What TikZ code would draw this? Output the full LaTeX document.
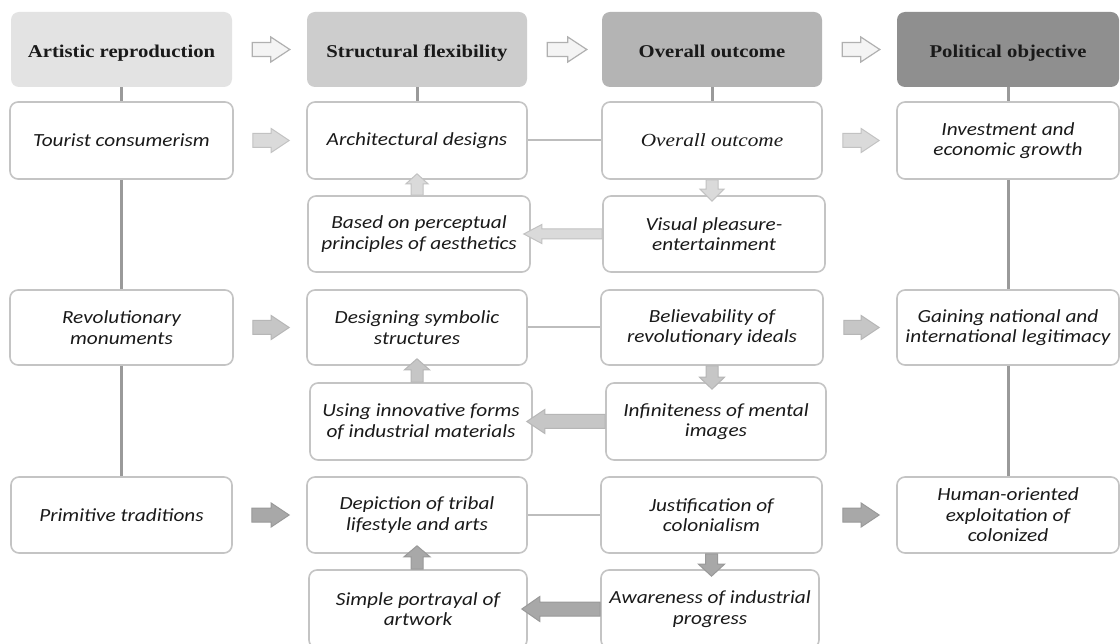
\documentclass[tikz,border=0pt]{standalone}
\usepackage{fontspec}
\setmainfont{Carlito}
\newfontfamily\bodyfont[FakeStretch=1.15]{Carlito}
\newfontfamily\headfont[FakeStretch=1.15]{Liberation Serif}
\usetikzlibrary{calc}
\definecolor{hA}{HTML}{E3E3E3}
\definecolor{hB}{HTML}{CDCDCD}
\definecolor{hC}{HTML}{B4B4B4}
\definecolor{hD}{HTML}{8F8F8F}
\definecolor{boxline}{HTML}{C4C4C4}
\definecolor{vline}{HTML}{9A9A9A}
\definecolor{hline}{HTML}{BDBDBD}
\definecolor{txt}{HTML}{1A1A1A}
\definecolor{arW}{HTML}{F4F4F4}
\definecolor{arWd}{HTML}{B0B0B0}
\definecolor{arA}{HTML}{DADADA}
\definecolor{arAd}{HTML}{C2C2C2}
\definecolor{arB}{HTML}{C6C6C6}
\definecolor{arBd}{HTML}{B6B6B6}
\definecolor{arC}{HTML}{A8A8A8}
\definecolor{arCd}{HTML}{999999}
% horizontal block arrow: style, tail, tip, body half, head half, signed head length
\newcommand{\hblk}[6]{\draw[#1] let \p1=(#2), \p2=(#3) in
  ({\x1},{\y1+#4}) -- ({\x2-(#6)},{\y1+#4}) -- ({\x2-(#6)},{\y1+#5}) -- ({\x2},{\y1})
  -- ({\x2-(#6)},{\y1-#5}) -- ({\x2-(#6)},{\y1-#4}) -- ({\x1},{\y1-#4}) -- cycle;}
% vertical block arrow
\newcommand{\vblk}[6]{\draw[#1] let \p1=(#2), \p2=(#3) in
  ({\x1+#4},{\y1}) -- ({\x1+#4},{\y2-(#6)}) -- ({\x1+#5},{\y2-(#6)}) -- ({\x1},{\y2})
  -- ({\x1-#5},{\y2-(#6)}) -- ({\x1-#4},{\y2-(#6)}) -- ({\x1-#4},{\y1}) -- cycle;}
\tikzset{
  headbox/.style={rounded corners=8pt, minimum height=75pt, inner sep=0pt,
    text height=17pt, text depth=0pt,
    font=\headfont\bfseries\fontsize{18}{20}\selectfont, text=txt},
  cellbox/.style={draw=boxline, line width=1.6pt, fill=white, rounded corners=8pt,
    inner sep=0pt, align=center, text=txt,
    font=\bodyfont\itshape\fontsize{18.5}{20.5}\selectfont},
  colline/.style={draw=vline, line width=3pt},
  rowline/.style={draw=hline, line width=2pt},
  arrW/.style={fill=arW, draw=arWd, line width=1.2pt},
  arrA/.style={fill=arA, draw=arAd, line width=1pt},
  arrB/.style={fill=arB, draw=arBd, line width=1pt},
  arrC/.style={fill=arC, draw=arCd, line width=1pt}
}
\begin{document}
\begin{tikzpicture}[x=1pt, y=-1pt]
\useasboundingbox (0,0) rectangle (1120,644);
\clip (0,0) rectangle (1120,644);
\fill[white] (0,0) rectangle (1120,644);

% headers
\node[headbox, fill=hA, minimum width=221pt] (H1) at (121.5,49.5) {Artistic reproduction};
\node[headbox, fill=hB, minimum width=220pt] (H2) at (417,49.5) {Structural flexibility};
\node[headbox, fill=hC, minimum width=220pt] (H3) at (712,49.5) {Overall outcome};
\node[headbox, fill=hD, minimum width=222pt] (H4) at (1008,49.5) {Political objective};

% row 1
\node[cellbox, minimum width=223pt, minimum height=77pt] (A1) at (121.5,140.5) {Tourist consumerism};
\node[cellbox, minimum width=220pt, minimum height=77pt] (B1) at (417,140.5) {Architectural designs};
\node[cellbox, minimum width=220pt, minimum height=77pt, font=\headfont\itshape\fontsize{18.5}{20.5}\selectfont] (C1) at (712,140.5) {Overall outcome};
\node[cellbox, minimum width=222pt, minimum height=77pt] (D1) at (1008,140.5) {Investment and\\economic growth};
\node[cellbox, minimum width=222pt, minimum height=76pt] (B1b) at (419,234) {Based on perceptual\\principles of aesthetics};
\node[cellbox, minimum width=222pt, minimum height=76pt] (C1b) at (714,234) {Visual pleasure-\\entertainment};

% row 2
\node[cellbox, minimum width=223pt, minimum height=75pt] (A2) at (121.5,327.5) {Revolutionary\\monuments};
\node[cellbox, minimum width=220pt, minimum height=75pt] (B2) at (417,327.5) {Designing symbolic\\structures};
\node[cellbox, minimum width=222pt, minimum height=75pt] (C2) at (712,327.5) {Believability of\\revolutionary ideals};
\node[cellbox, minimum width=222pt, minimum height=75pt] (D2) at (1008,327.5) {Gaining national and\\international legitimacy};
\node[cellbox, minimum width=222pt, minimum height=77pt] (B2b) at (421,421.5) {Using innovative forms\\of industrial materials};
\node[cellbox, minimum width=220pt, minimum height=77pt] (C2b) at (716,421.5) {Infiniteness of mental\\images};

% row 3
\node[cellbox, minimum width=221pt, minimum height=76pt] (A3) at (121.5,515) {Primitive traditions};
\node[cellbox, minimum width=220pt, minimum height=76pt] (B3) at (417,515) {Depiction of tribal\\lifestyle and arts};
\node[cellbox, minimum width=221pt, minimum height=76pt] (C3) at (711.5,515) {Justification of\\colonialism};
\node[cellbox, minimum width=222pt, minimum height=76pt] (D3) at (1008,515) {Human-oriented\\exploitation of\\colonized};
\node[cellbox, minimum width=218pt, minimum height=78pt] (B3b) at (418,609) {Simple portrayal of\\artwork};
\node[cellbox, minimum width=218pt, minimum height=78pt] (C3b) at (710,609) {Awareness of industrial\\progress};

% column lines
\draw[colline] (H1.south) -- (A1.north);
\draw[colline] (A1.south) -- (A2.north);
\draw[colline] (A2.south) -- (A3.north);
\draw[colline] (H2.south) -- (B1.north);
\draw[colline] (H3.south) -- (C1.north);
\draw[colline] (H4.south) -- (D1.north);
\draw[colline] (D1.south) -- (D2.north);
\draw[colline] (D2.south) -- (D3.north);

% row lines
\draw[rowline] (B1.east) -- (C1.west);
\draw[rowline] (B2.east) -- (C2.west);
\draw[rowline] (B3.east) -- (C3.west);

% header arrows
\hblk{arrW}{$(H1.east)+(20,0)$}{$(H2.west)+(-17,0)$}{7}{12.5}{19}
\hblk{arrW}{$(H2.east)+(20,0)$}{$(H3.west)+(-15,0)$}{7}{12.5}{19}
\hblk{arrW}{$(H3.east)+(20,0)$}{$(H4.west)+(-17,0)$}{7}{12.5}{19}

% row 1 arrows
\hblk{arrA}{$(A1.east)+(19,0)$}{$(B1.west)+(-17,0)$}{7}{12}{18}
\hblk{arrA}{$(C1.east)+(20,0)$}{$(D1.west)+(-17,0)$}{7}{12}{18}
\vblk{arrA}{B1.south |- B1b.north}{$(B1.south)+(0,-6)$}{6}{11}{10}
\vblk{arrA}{C1.south}{$(C1.south |- C1b.north)+(0,6)$}{6}{12}{-12}
\hblk{arrA}{C1b.west}{$(B1b.east)+(-7,0)$}{5}{9.5}{-18}

% row 2 arrows
\hblk{arrB}{$(A2.east)+(19,0)$}{$(B2.west)+(-17,0)$}{7}{12}{18}
\hblk{arrB}{$(C2.east)+(20,0)$}{$(D2.west)+(-17,0)$}{7}{12}{18}
\vblk{arrB}{B2.south |- B2b.north}{$(B2.south)+(0,-7)$}{6}{12.5}{11}
\vblk{arrB}{C2.south}{$(C2.south |- C2b.north)+(0,7)$}{6}{12.5}{-12}
\hblk{arrB}{C2b.west}{$(B2b.east)+(-6,0)$}{7}{12}{-18}

% row 3 arrows
\hblk{arrC}{$(A3.east)+(19,0)$}{$(B3.west)+(-17,0)$}{7}{12}{18}
\hblk{arrC}{$(C3.east)+(20,0)$}{$(D3.west)+(-17,0)$}{7}{12}{18}
\vblk{arrC}{B3.south |- B3b.north}{$(B3.south)+(0,-8)$}{6}{13}{11}
\vblk{arrC}{C3.south}{$(C3.south |- C3b.north)+(0,7)$}{6}{13}{-12}
\hblk{arrC}{C3b.west}{$(B3b.east)+(-6,0)$}{7}{12.5}{-18}
\end{tikzpicture}
\end{document}
